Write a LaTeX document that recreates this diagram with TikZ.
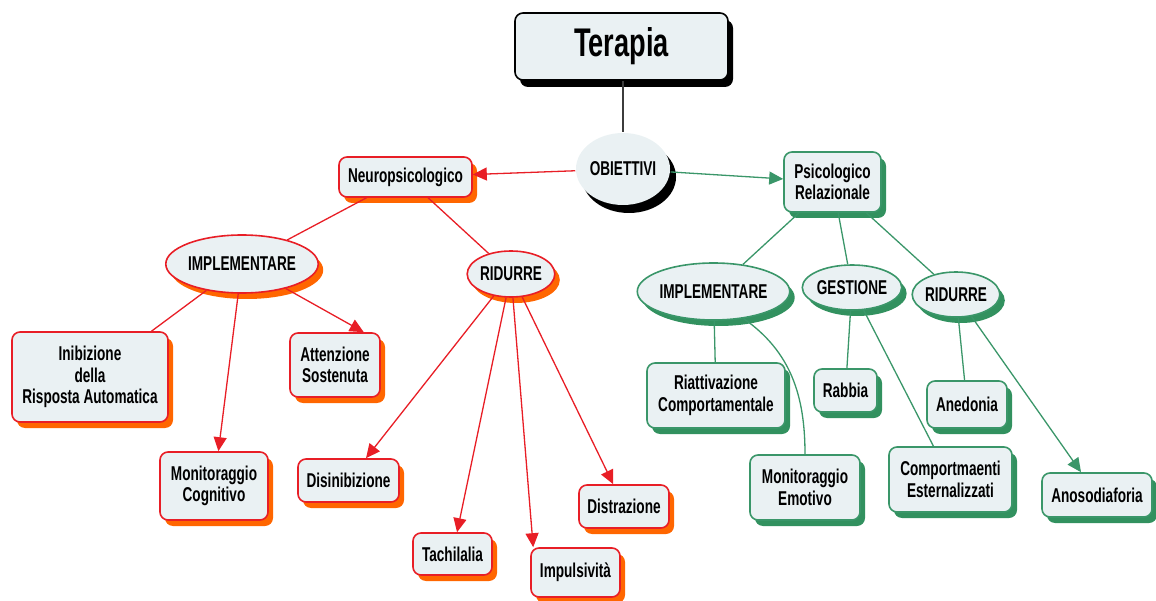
\documentclass[tikz,border=0pt]{standalone}
\usepackage{fontspec}
\newfontfamily\cond{Liberation Sans}[FakeStretch=0.68]
\usetikzlibrary{shapes.geometric,shadows,arrows.meta,calc}
\definecolor{redline}{RGB}{232,30,38}
\definecolor{orsh}{RGB}{255,102,0}
\definecolor{grline}{RGB}{58,150,105}
\definecolor{grsh}{RGB}{50,145,95}
\definecolor{boxfill}{RGB}{234,241,243}
\definecolor{grayline}{RGB}{60,60,60}
\begin{document}
\begin{tikzpicture}[x=1pt,y=-1pt,
  base/.style={fill=boxfill, line width=1.6pt, align=center, inner sep=0pt,
    font=\cond\bfseries\fontsize{20}{21.5}\selectfont},
  redbox/.style={base, draw=redline, rounded corners=8pt,
    drop shadow={shadow xshift=5pt, shadow yshift=-6pt, fill=orsh, opacity=1}},
  redell/.style={base, draw=redline, ellipse,
    drop shadow={shadow xshift=5pt, shadow yshift=-6pt, fill=orsh, opacity=1}},
  grbox/.style={base, draw=grline, rounded corners=8pt,
    drop shadow={shadow xshift=5pt, shadow yshift=-6pt, fill=grsh, opacity=1}},
  grell/.style={base, draw=grline, ellipse,
    drop shadow={shadow xshift=5pt, shadow yshift=-6pt, fill=grsh, opacity=1}},
  redcon/.style={draw=redline, line width=1.3pt},
  redarr/.style={redcon, -{Triangle[length=14pt,width=13pt]}},
  grcon/.style={draw=grline, line width=1.3pt},
  grarr/.style={grcon, -{Triangle[length=14pt,width=13pt]}},
]
\useasboundingbox (0,0) rectangle (1156,601);

% top
\node[base, draw=black, rounded corners=8pt, minimum width=213pt, minimum height=67pt,
  font=\cond\bfseries\fontsize{40}{44}\selectfont,
  drop shadow={shadow xshift=5pt, shadow yshift=-7pt, fill=black, opacity=1}]
  (terapia) at (621.5,46.5) {Terapia};
\node[base, ellipse, draw=none, minimum width=90pt, minimum height=72pt,
  drop shadow={shadow xshift=6pt, shadow yshift=-8pt, fill=black, opacity=1}]
  (obiettivi) at (623,169) {OBIETTIVI};

% left branch
\node[redbox, minimum width=133pt, minimum height=40pt] (neuro) at (405.5,177) {Neuropsicologico};
\node[redell, minimum width=120pt, minimum height=58pt] (impl) at (242,264) {IMPLEMENTARE};
\node[redell, minimum width=72pt, minimum height=46pt] (ridl) at (511,274) {RIDURRE};
\node[redbox, minimum width=156pt, minimum height=90pt] (inib) at (90,377) {Inibizione\\della\\Risposta Automatica};
\node[redbox, minimum width=90pt, minimum height=64pt] (att) at (335,365) {Attenzione\\Sostenuta};
\node[redbox, minimum width=108pt, minimum height=68pt] (moncog) at (214,486) {Monitoraggio\\Cognitivo};
\node[redbox, minimum width=101pt, minimum height=43pt] (disin) at (348.5,480.5) {Disinibizione};
\node[redbox, minimum width=79pt, minimum height=42pt] (tachi) at (452.5,554) {Tachilalia};
\node[redbox, minimum width=89pt, minimum height=49pt] (impuls) at (575.5,572.5) {Impulsività};
\node[redbox, minimum width=90pt, minimum height=43pt] (distr) at (624,506.5) {Distrazione};

% right branch
\node[grbox, minimum width=97pt, minimum height=60pt] (psico) at (832.5,182) {Psicologico\\Relazionale};
\node[grell, minimum width=117pt, minimum height=57pt] (implr) at (713.5,291.5) {IMPLEMENTARE};
\node[grell, minimum width=80pt, minimum height=45pt] (gest) at (852,287.5) {GESTIONE};
\node[grell, minimum width=68pt, minimum height=45pt] (ridr) at (956,294.5) {RIDURRE};
\node[grbox, minimum width=138pt, minimum height=65pt] (riatt) at (716,395.5) {Riattivazione\\Comportamentale};
\node[grbox, minimum width=110pt, minimum height=65pt] (monemo) at (805,487.5) {Monitoraggio\\Emotivo};
\node[grbox, minimum width=63pt, minimum height=43pt] (rabbia) at (845.5,390.5) {Rabbia};
\node[grbox, minimum width=123pt, minimum height=65pt] (comp) at (950.5,479.5) {Comportmaenti\\Esternalizzati};
\node[grbox, minimum width=80pt, minimum height=47pt] (aned) at (967,404.5) {Anedonia};
\node[grbox, minimum width=110pt, minimum height=44pt] (anoso) at (1097,495) {Anosodiaforia};

% connectors
\draw[grayline, line width=1.2pt] (obiettivi.north |- terapia.south) -- (obiettivi.north);
\draw[redarr] (obiettivi) -- (neuro);
\draw[grarr] (obiettivi) -- (psico);

\draw[redcon] (neuro) -- (impl);
\draw[redcon] (neuro) -- (ridl);
\draw[redcon] (impl) -- (inib);
\draw[redarr] (impl) -- ([xshift=-17pt]att.north east);
\draw[redarr] (impl) -- (moncog);
\draw[redarr] (ridl) -- (disin);
\draw[redarr] (ridl) -- (tachi);
\draw[redarr] (ridl) -- ([xshift=3pt]impuls.north west);
\draw[redarr] (ridl) -- (distr);

\draw[grcon] (psico) -- (implr);
\draw[grcon] (psico) -- (gest);
\draw[grcon] (psico) -- (ridr);
\draw[grcon] (implr) -- (riatt);
\draw[grcon] (implr.-42) to[out=-35,in=90] (monemo.north);
\draw[grcon] (gest) -- (rabbia);
\draw[grcon] (gest) -- (comp);
\draw[grcon] (ridr) -- (aned);
\draw[grarr] (ridr) -- (anoso);
\end{tikzpicture}
\end{document}
